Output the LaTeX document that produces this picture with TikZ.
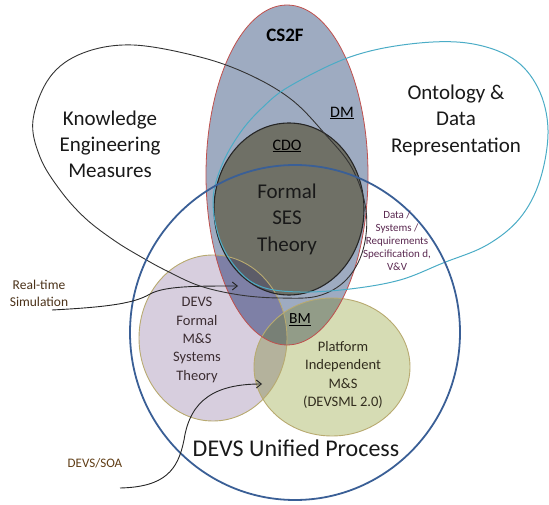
\documentclass[tikz,border=0pt]{standalone}
\usepackage{fontspec}
\setmainfont{Carlito}
\usetikzlibrary{arrows.meta}
\definecolor{cCS}{RGB}{158,171,193}
\definecolor{cCDO}{RGB}{111,112,102}
\definecolor{cFM}{RGB}{215,206,222}
\definecolor{cPI}{RGB}{214,220,180}
\definecolor{cFC}{RGB}{126,128,166}
\definecolor{cPC}{RGB}{146,156,136}
\definecolor{cFP}{RGB}{180,178,156}
\definecolor{cFPC}{RGB}{120,128,118}
\definecolor{cFCDO}{RGB}{92,92,104}
\definecolor{cRed}{RGB}{192,80,77}
\definecolor{cTan}{RGB}{184,170,112}
\definecolor{cCyan}{RGB}{75,172,198}
\definecolor{cBlue}{RGB}{58,95,150}
\definecolor{cBrown}{RGB}{75,50,25}
\definecolor{cSoa}{RGB}{95,60,20}
\definecolor{cPurp}{RGB}{90,40,80}
\definecolor{cDark}{RGB}{60,45,50}
\definecolor{cDark2}{RGB}{50,45,30}
\tikzset{
 pcs/.style={insert path={(287,175) ellipse [x radius=81, y radius=170]}},
 pcdo/.style={insert path={(289,209) ellipse [x radius=75, y radius=86]}},
 pfm/.style={insert path={(213,338) ellipse [x radius=74, y radius=83]}},
 ppi/.style={insert path={(332,367) ellipse [x radius=78, y radius=69]}},
 lbl/.style={inner sep=0pt, align=center},
 arr/.style={draw=black!85, line width=0.9pt, -{Straight Barb[length=5pt,width=8pt]}},
}
\begin{document}
\begin{tikzpicture}[x=1pt,y=-1pt]
\useasboundingbox (0,0) rectangle (549,505);
% fills
\path[fill=cFM, pfm];
\path[fill=cPI, ppi];
\path[fill=cCS, pcs];
\begin{scope}
 \path[clip, pcs];
 \path[fill=cFC, pfm];
 \path[fill=cPC, ppi];
\end{scope}
\begin{scope}
 \path[clip, pfm];
 \path[clip, ppi];
 \fill[cFP] (0,0) rectangle (549,505);
 \path[clip, pcs];
 \fill[cFPC] (0,0) rectangle (549,505);
\end{scope}
\path[fill=cCDO, pcdo];
\begin{scope}
 \path[clip, pcdo];
 \path[fill=cFCDO, pfm];
\end{scope}
% outlines
\path[draw=cTan, line width=0.9pt, pfm];
\path[draw=cTan, line width=0.9pt, ppi];
\path[draw=cRed, line width=0.8pt, pcs];
\path[draw=black!85, line width=1.1pt, pcdo];
% knowledge engineering teardrop
\draw[black!80, line width=0.9pt] plot[smooth cycle, tension=0.6] coordinates {
 (33,120) (50,77) (83,53) (133,45) (200,57) (250,75) (292,100) (325,134)
 (352,168) (366,210) (363,250) (346,280) (318,296) (280,298) (240,295)
 (200,286) (167,271) (143,258) (115,241) (85,218) (60,190) (40,157)};
% ontology
\draw[cCyan, line width=1pt] plot[smooth cycle, tension=0.6] coordinates {
 (467,43) (512,58) (538,88) (548,130) (540,180) (520,218) (487,245)
 (443,263) (400,280) (350,289) (300,292) (262,287) (238,270) (220,240)
 (213,200) (222,165) (240,133) (262,108) (290,86) (350,57) (410,44)};
% DEVS unified process
\draw[cBlue, line width=1.8pt] (295,332.5) ellipse [x radius=165, y radius=167.5];
% arrows
\coordinate (rtA) at (52,310);
\coordinate (rtB) at (238,286);
\coordinate (soaA) at (120,488);
\coordinate (soaB) at (262,384);
\draw[arr] (rtA) .. controls (110,307) and (135,303) .. (150,294)
 .. controls (165,286) and (195,286) .. (rtB);
\draw[arr] (soaA) .. controls (165,487) and (178,470) .. (184,440)
 .. controls (190,400) and (215,384) .. (soaB);
% labels
\node[lbl, font=\fontsize{19}{22}\selectfont\bfseries] (cs2f) at (285,35) {CS2F};
\node[lbl, font=\fontsize{16}{19}\selectfont] (dm) at (342,113) {\underline{DM}};
\node[lbl, font=\fontsize{16}{19}\selectfont] (cdo) at (287,146) {\underline{CDO}};
\node[lbl, font=\fontsize{21}{26.5}\selectfont, text=black!90] (ses) at (287,219) {Formal\\SES\\Theory};
\node[lbl, font=\fontsize{21}{26}\selectfont, text=black!90] (ke) at (110,144) {Knowledge\\Engineering\\Measures};
\node[lbl, font=\fontsize{21}{26.5}\selectfont, text=black!90] (onto) at (456,120) {Ontology \&\\Data\\Representation};
\node[lbl, font=\fontsize{11}{13}\selectfont, text=cPurp] (data) at (397,241) {Data /\\Systems /\\Requirements\\Specification d,\\V\&V};
\node[lbl, font=\fontsize{13.5}{17}\selectfont, text=cBrown] (rt) at (39,293) {Real-time\\Simulation};
\node[lbl, font=\fontsize{14.5}{18.3}\selectfont, text=cDark] (fm) at (197,340) {DEVS\\Formal\\M\&S\\Systems\\Theory};
\node[lbl, font=\fontsize{15.5}{18}\selectfont] (bm) at (300,320) {\underline{BM}};
\node[lbl, font=\fontsize{14.5}{18.5}\selectfont, text=cDark2] (pi) at (343,375) {Platform\\Independent\\M\&S\\(DEVSML 2.0)};
\node[lbl, font=\fontsize{24}{28}\selectfont, text=black!90] (dup) at (296,448) {DEVS Unified Process};
\node[lbl, font=\fontsize{13}{16}\selectfont, text=cSoa] (soa) at (95,463) {DEVS/SOA};
\end{tikzpicture}
\end{document}
